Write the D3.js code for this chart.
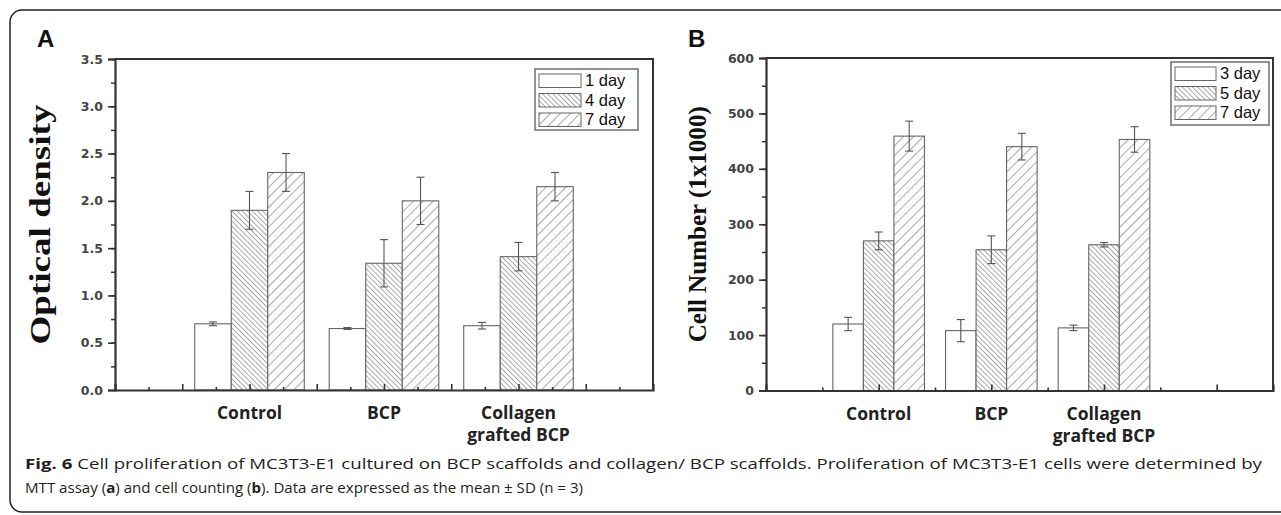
<!DOCTYPE html>
<html lang="en">
<head>
  <meta charset="UTF-8">
  <title>Fig. 6 Cell proliferation</title>
  <script src="https://d3js.org/d3.v7.min.js"></script>
  <style>
    body { margin: 0; background: #fff; }
    svg { display: block; }
  </style>
</head>
<body>
  <div id="chart"></div>
  <script>
    // data
    const groups = ["Control", "BCP", "Collagen grafted BCP"];

    const odSeries = ["1 day", "4 day", "7 day"];
    const odMeans = [[0.70, 0.65, 0.68], [1.90, 1.34, 1.41], [2.30, 2.00, 2.15]];
    const odSD = [[0.02, 0.01, 0.035], [0.20, 0.25, 0.15], [0.20, 0.25, 0.15]];
    const odTicks = [0, 0.5, 1.0, 1.5, 2.0, 2.5, 3.0, 3.5];

    const cellSeries = ["3 day", "5 day", "7 day"];
    const cellMeans = [[120, 108, 113], [270, 254, 263], [459, 440, 453]];
    const cellSD = [[12, 20, 5], [16, 25, 4], [27, 24, 23]];
    const cellTicks = [0, 100, 200, 300, 400, 500, 600];

    const W = 1281, H = 515;
    const svg = d3.select("#chart").append("svg")
      .attr("width", W).attr("height", H);

    // hatch patterns
    const defs = svg.append("defs");
    function hatch(id, size, angle) {
      const p = defs.append("pattern")
        .attr("id", id)
        .attr("patternUnits", "userSpaceOnUse")
        .attr("width", size).attr("height", size)
        .attr("patternTransform", `rotate(${angle})`);
      p.append("rect").attr("width", size).attr("height", size).attr("fill", "#fff");
      p.append("line").attr("x1", 0).attr("y1", 0).attr("x2", 0).attr("y2", size)
        .attr("stroke", "#555").attr("stroke-width", 1);
    }
    hatch("dense", 3.6, -45);
    hatch("wide", 7, 45);
    const fills = ["#fff", "url(#dense)", "url(#wide)"];

    // outer frame
    svg.append("rect")
      .attr("x", 10).attr("y", 10).attr("width", 1300).attr("height", 502)
      .attr("rx", 12).attr("fill", "none")
      .attr("stroke", "#222").attr("stroke-width", 1.5);

    function drawPanel(o) {
      const x = d3.scaleLinear().domain(o.xDomain).range([o.left, o.right]);
      const y = d3.scaleLinear().domain([0, d3.max(o.ticks)]).range([o.bottom, o.top]);
      const g = svg.append("g");

      // bars
      o.series.forEach((s, si) => {
        groups.forEach((grp, gi) => {
          const cx = o.pos[gi] + (si - 1) * o.barW;
          const v = o.means[si][gi], sd = o.sd[si][gi];
          g.append("rect")
            .attr("x", x(cx - o.barW / 2))
            .attr("y", y(v))
            .attr("width", x(o.barW) - x(0))
            .attr("height", y(0) - y(v))
            .attr("fill", fills[si])
            .attr("stroke", "#666").attr("stroke-width", 1.1);
          // error bar
          const ex = x(cx);
          g.append("line").attr("x1", ex).attr("x2", ex)
            .attr("y1", y(v - sd)).attr("y2", y(v + sd))
            .attr("stroke", "#555").attr("stroke-width", 1.1);
          [v - sd, v + sd].forEach(e => {
            g.append("line").attr("x1", ex - 4).attr("x2", ex + 4)
              .attr("y1", y(e)).attr("y2", y(e))
              .attr("stroke", "#555").attr("stroke-width", 1.1);
          });
        });
      });

      // frame of plot (top & right)
      g.append("path")
        .attr("d", `M${o.left},${o.top}H${o.right}V${o.bottom}`)
        .attr("fill", "none").attr("stroke", "#333").attr("stroke-width", 2);

      // y axis, major + minor
      const step = o.ticks[1] - o.ticks[0];
      const minor = d3.range(0, d3.max(o.ticks), step / 2).map(d => d + step / 2);
      g.append("g").attr("transform", `translate(${o.left},0)`)
        .call(d3.axisLeft(y).tickValues(minor).tickSize(4).tickFormat(""))
        .call(a => a.select(".domain").remove())
        .selectAll("line").attr("stroke", "#333").attr("stroke-width", 1.5);
      const ya = g.append("g").attr("transform", `translate(${o.left},0)`)
        .call(d3.axisLeft(y).tickValues(o.ticks).tickSize(7).tickPadding(5).tickFormat(o.fmt));
      ya.select(".domain").attr("stroke", "#333").attr("stroke-width", 2.2);
      ya.selectAll("line").attr("stroke", "#333").attr("stroke-width", 1.6);
      ya.selectAll("text")
        .attr("font-family", "DejaVu Sans").attr("font-weight", "bold")
        .attr("font-size", 12.5).attr("fill", "#444");

      // x axis, ticks pointing inward
      const xMinor = d3.range(o.xDomain[0] + 0.5, o.xDomain[1], 1);
      const xMajor = d3.range(o.xDomain[0] + 1, o.xDomain[1], 1);
      g.append("g").attr("transform", `translate(0,${o.bottom})`)
        .call(d3.axisBottom(x).tickValues(xMinor).tickSize(-3).tickFormat(""))
        .call(a => a.select(".domain").remove())
        .selectAll("line").attr("stroke", "#333").attr("stroke-width", 1.6);
      const xa = g.append("g").attr("transform", `translate(0,${o.bottom})`)
        .call(d3.axisBottom(x).tickValues(xMajor).tickSize(-6).tickFormat(""));
      xa.select(".domain").attr("stroke", "#333").attr("stroke-width", 2.2);
      xa.selectAll("line").attr("stroke", "#333").attr("stroke-width", 1.6);

      // category labels
      groups.forEach((grp, gi) => {
        const words = grp === "Collagen grafted BCP" ? ["Collagen", "grafted BCP"] : [grp];
        words.forEach((w, wi) => {
          g.append("text")
            .attr("x", x(o.pos[gi])).attr("y", o.bottom + 29 + wi * 22)
            .attr("text-anchor", "middle")
            .attr("font-family", "Open Sans").attr("font-weight", "bold")
            .attr("font-size", 17.5).attr("fill", "#222")
            .text(w);
        });
      });

      // y label
      g.append("text")
        .attr("transform", `translate(${o.yLabelX},${(o.top + o.bottom) / 2}) rotate(-90)`)
        .attr("text-anchor", "middle")
        .attr("font-family", "Liberation Serif").attr("font-weight", "bold")
        .attr("font-size", o.yLabelSize).attr("fill", "#111")
        .attr("textLength", o.yLabelLen).attr("lengthAdjust", "spacingAndGlyphs")
        .text(o.yLabel);

      // panel letter
      g.append("text")
        .attr("x", o.letterX).attr("y", 47)
        .attr("font-family", "Liberation Sans").attr("font-weight", "bold")
        .attr("font-size", 24).attr("fill", "#111")
        .text(o.letter);

      // legend
      const L = o.legend;
      g.append("rect")
        .attr("x", L.x).attr("y", L.y).attr("width", L.w).attr("height", L.h)
        .attr("fill", "#fff").attr("stroke", "#777").attr("stroke-width", 1.6);
      o.series.forEach((s, si) => {
        const ry = L.y + 5 + si * L.row;
        g.append("rect")
          .attr("x", L.x + 4).attr("y", ry)
          .attr("width", L.sw).attr("height", L.row - 6)
          .attr("fill", fills[si]).attr("stroke", "#666").attr("stroke-width", 1);
        g.append("text")
          .attr("x", L.x + L.sw + 8).attr("y", ry + L.row - 7.5)
          .attr("font-family", "Liberation Sans")
          .attr("font-size", 16.5).attr("fill", "#111")
          .text(s);
      });
    }

    drawPanel({
      letter: "A", letterX: 37,
      left: 115, right: 653, top: 59, bottom: 390,
      xDomain: [0, 8], pos: [2, 4, 6], barW: 0.543,
      series: odSeries, means: odMeans, sd: odSD, ticks: odTicks,
      fmt: d3.format(".1f"),
      yLabel: "Optical density", yLabelX: 50, yLabelSize: 29, yLabelLen: 240,
      legend: {x: 535, y: 69, w: 103, h: 61, row: 19.5, sw: 42}
    });

    drawPanel({
      letter: "B", letterX: 688,
      left: 766, right: 1273, top: 58, bottom: 390.5,
      xDomain: [0, 4.5], pos: [1, 2, 3], barW: 0.271,
      series: cellSeries, means: cellMeans, sd: cellSD, ticks: cellTicks,
      fmt: d3.format("d"),
      yLabel: "Cell Number (1x1000)", yLabelX: 706, yLabelSize: 25, yLabelLen: 236,
      legend: {x: 1171, y: 62, w: 98, h: 63, row: 19.5, sw: 41}
    });

    // caption
    const cap = svg.append("g")
      .attr("font-family", "Open Sans")
      .attr("font-size", 15).attr("fill", "#231f20");
    const l1 = cap.append("text").attr("x", 25).attr("y", 469)
      .attr("textLength", 1237).attr("lengthAdjust", "spacingAndGlyphs");
    l1.append("tspan").attr("font-weight", "bold").text("Fig. 6");
    l1.append("tspan").text(" Cell proliferation of MC3T3-E1 cultured on BCP scaffolds and collagen/ BCP scaffolds. Proliferation of MC3T3-E1 cells were determined by");
    const l2 = cap.append("text").attr("x", 25).attr("y", 493)
      .attr("textLength", 558).attr("lengthAdjust", "spacingAndGlyphs");
    l2.append("tspan").text("MTT assay (");
    l2.append("tspan").attr("font-weight", "bold").text("a");
    l2.append("tspan").text(") and cell counting (");
    l2.append("tspan").attr("font-weight", "bold").text("b");
    l2.append("tspan").text("). Data are expressed as the mean \u00b1 SD (n = 3)");
  </script>
</body>
</html>
